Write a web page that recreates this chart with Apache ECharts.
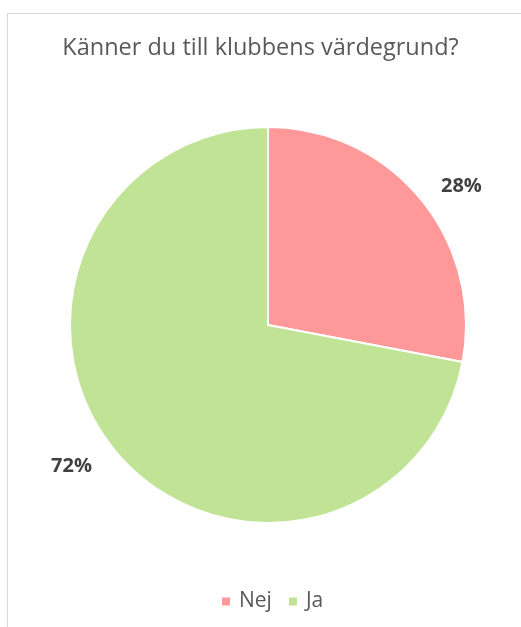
<!DOCTYPE html>
<html>
<head>
<meta charset="utf-8">
<script src="https://cdn.jsdelivr.net/npm/echarts@6/dist/echarts.min.js"></script>
<style>
html,body{margin:0;padding:0;width:521px;height:627px;overflow:hidden;background:#fff;}
#frame{position:absolute;left:7px;top:13px;width:600px;height:700px;border:1px solid #d9d9d9;box-sizing:border-box;}
#chart{position:absolute;left:0;top:0;width:521px;height:627px;}
</style>
</head>
<body>
<div id="frame"></div>
<div id="chart"></div>
<script>
const titleText = 'Känner du till klubbens värdegrund?';
const categories = ['Nej', 'Ja'];
const values = [28, 72];
const colors = ['#FF9999', '#C0E396'];

const labelLengths = [20, 24];
const chart = echarts.init(document.getElementById('chart'));
chart.setOption({
  animation: false,
  title: {
    text: titleText,
    left: 'center',
    top: 31,
    textStyle: { fontFamily: 'Open Sans', fontSize: 23.5, fontWeight: 'normal', color: '#595959' }
  },
  legend: {
    data: categories,
    bottom: 10,
    left: 215,
    icon: 'rect',
    itemWidth: 10,
    itemHeight: 10,
    itemGap: 15,
    textStyle: { fontFamily: 'Open Sans', fontSize: 21, color: '#595959', padding: [0, 0, 0, 3] }
  },
  series: [{
    type: 'pie',
    center: [268, 325],
    radius: 198,
    startAngle: 90,
    clockwise: true,
    color: colors,
    itemStyle: { borderColor: '#fff', borderWidth: 2 },
    label: {
      show: true,
      position: 'outside',
      formatter: '{d}%',
      fontFamily: 'Open Sans',
      fontSize: 20,
      fontWeight: 'bold',
      color: '#404040'
    },
    labelLine: { show: false, length: 22, length2: 0 },
    emphasis: { disabled: true },
    data: categories.map((c, i) => ({ name: c, value: values[i], labelLine: { show: false, length: labelLengths[i], length2: 0 } }))
  }]
});
</script>
</body>
</html>
